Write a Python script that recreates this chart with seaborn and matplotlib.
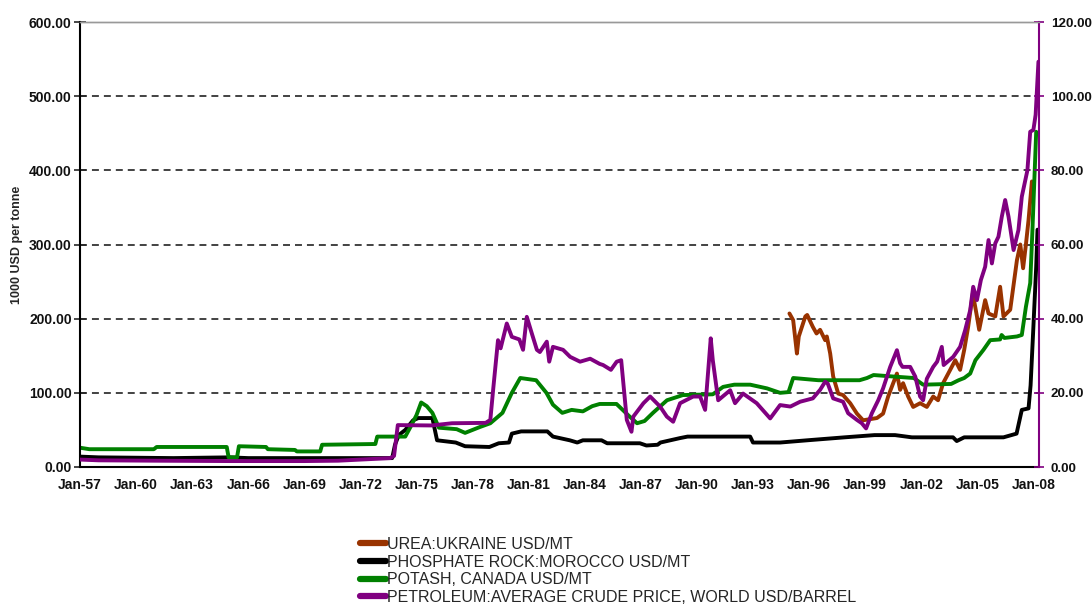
import matplotlib
matplotlib.use("Agg")
import matplotlib.pyplot as plt
from matplotlib.lines import Line2D
from matplotlib.ticker import MultipleLocator, FuncFormatter
import seaborn as sns

sns.set_style("white")
plt.rcParams['font.family'] = ['Liberation Sans', 'DejaVu Sans']
plt.rcParams['lines.scale_dashes'] = False

# ---- data (decimal years) ----
potash_years = [1957.0, 1957.5, 1960.95, 1961.1, 1964.85, 1964.95, 1965.4, 1965.5, 1966.95, 1967.05,
                1968.5, 1968.6, 1969.85, 1969.95, 1972.8, 1972.9, 1974.4, 1974.7, 1975.0, 1975.25,
                1975.55, 1975.85, 1976.2, 1977.15, 1977.6, 1978.0, 1978.4, 1978.95, 1979.6, 1980.1,
                1980.55, 1981.4, 1981.95, 1982.3, 1982.8, 1983.3, 1983.9, 1984.4, 1984.8, 1985.7,
                1986.4, 1986.8, 1987.2, 1987.65, 1988.4, 1989.25, 1990.85, 1991.4, 1992.0, 1992.85,
                1993.75, 1994.45, 1994.9, 1995.15, 1996.5, 1998.7, 1999.1, 1999.45, 2000.5, 2001.6,
                2002.1, 2003.6, 2004.0, 2004.3, 2004.62, 2004.9, 2005.33, 2005.69, 2006.22, 2006.3,
                2006.45, 2007.12, 2007.38, 2007.6, 2007.83, 2007.95, 2008.15]
potash = [26, 24, 24, 27, 27, 13, 13, 28, 27, 24,
          23, 21, 21, 30, 31, 41, 41, 55, 70, 87,
          82, 73, 53, 51, 46, 50, 54, 59, 73, 100,
          120, 117, 100, 84, 73, 77, 75, 82, 85, 85,
          68, 59, 62, 73, 90, 97, 98, 108, 111, 111,
          106, 100, 101, 120, 117, 117, 120, 124, 122, 120,
          111, 112, 117, 120, 126, 144, 158, 171, 172, 178,
          174, 176, 178, 216, 248, 320, 452]

phosphate_years = [1957.0, 1958.0, 1962.0, 1965.0, 1966.0, 1973.7, 1973.85, 1974.05, 1974.4, 1974.82,
                   1975.1, 1975.85, 1976.1, 1977.1, 1977.6, 1978.9, 1979.4, 1979.95, 1980.1, 1980.6,
                   1982.0, 1982.3, 1983.2, 1983.6, 1983.9, 1984.9, 1985.2, 1986.95, 1987.3, 1987.9,
                   1988.05, 1989.1, 1989.5, 1992.85, 1993.0, 1994.45, 1995.9, 1997.9, 1999.5, 2000.6,
                   2001.5, 2003.7, 2003.9, 2004.3, 2006.4, 2007.1, 2007.38, 2007.74, 2007.85, 2008.0,
                   2008.15, 2008.22]
phosphate = [14, 13, 12, 13, 12, 12, 30, 43, 50, 63,
             66, 66, 36, 33, 28, 27, 32, 33, 45, 48,
             48, 41, 36, 33, 36, 36, 32, 32, 29, 30,
             33, 39, 41, 41, 33, 33, 36, 40, 43, 43,
             40, 40, 35, 40, 40, 45, 77, 79, 110, 189,
             270, 320]

urea_years = [1994.95, 1995.15, 1995.35, 1995.45, 1995.8, 1995.9, 1996.2, 1996.4, 1996.59, 1996.86,
              1996.95, 1997.13, 1997.29, 1997.56, 1997.82, 1998.2, 1998.56, 1998.89, 1999.63, 1999.96,
              2000.23, 2000.5, 2000.7, 2000.87, 2001.03, 2001.3, 2001.57, 2001.94, 2002.3, 2002.64,
              2002.9, 2003.17, 2003.55, 2003.82, 2004.08, 2004.3, 2004.51, 2004.76, 2004.98, 2005.1,
              2005.42, 2005.6, 2005.96, 2006.22, 2006.4, 2006.76, 2007.12, 2007.3, 2007.45, 2007.6,
              2007.74, 2007.92]
urea = [207, 198, 153, 176, 203, 205, 189, 180, 185, 171,
        176, 153, 122, 99, 97, 86, 72, 63, 66, 72,
        95, 113, 126, 104, 113, 95, 81, 86, 81, 95,
        90, 113, 131, 144, 131, 158, 189, 234, 203, 185,
        225, 207, 203, 243, 203, 212, 279, 300, 268, 300,
        333, 385]

crude_years = [1957.0, 1958.0, 1961.0, 1965.0, 1969.0, 1970.8, 1972.0, 1973.6, 1973.8, 1974.0,
               1975.8, 1976.9, 1978.7, 1978.95, 1979.1, 1979.36, 1979.5, 1979.83, 1980.1, 1980.5,
               1980.7, 1980.9, 1981.17, 1981.44, 1981.6, 1981.97, 1982.1, 1982.3, 1982.84, 1983.22,
               1983.75, 1984.29, 1984.8, 1984.98, 1985.4, 1985.71, 1985.95, 1986.25, 1986.5, 1986.6,
               1987.14, 1987.5, 1988.03, 1988.39, 1988.73, 1989.1, 1989.8, 1990.17, 1990.44, 1990.74,
               1990.85, 1991.14, 1991.78, 1992.04, 1992.47, 1993.2, 1993.92, 1994.45, 1995.0, 1995.52,
               1996.2, 1996.59, 1996.86, 1997.0, 1997.29, 1997.82, 1998.09, 1998.56, 1998.82, 1999.05,
               1999.36, 1999.7, 1999.96, 2000.34, 2000.7, 2000.87, 2001.0, 2001.41, 2001.68, 2001.94,
               2002.1, 2002.3, 2002.64, 2002.85, 2003.1, 2003.2, 2003.71, 2004.08, 2004.35, 2004.62,
               2004.78, 2004.98, 2005.19, 2005.42, 2005.6, 2005.78, 2005.96, 2006.13, 2006.31, 2006.49,
               2006.67, 2006.94, 2007.2, 2007.38, 2007.68, 2007.83, 2008.0, 2008.12, 2008.27]
crude = [2.0, 1.8, 1.7, 1.6, 1.6, 1.7, 2.0, 2.4, 3.0, 11.3,
         11.2, 11.8, 11.9, 12.7, 20.8, 34.2, 32.0, 38.7, 35.1, 34.4,
         31.6, 40.5, 36.0, 31.6, 31.0, 33.8, 28.4, 32.4, 31.6, 29.7,
         28.4, 29.2, 27.8, 27.5, 26.2, 28.4, 28.8, 12.7, 9.5, 13.6,
         17.2, 19.0, 16.3, 13.6, 12.2, 17.2, 19.0, 19.0, 15.4, 34.7,
         28.8, 18.0, 20.7, 17.2, 19.8, 17.2, 13.1, 16.7, 16.3, 17.6,
         18.5, 20.8, 23.0, 22.5, 18.5, 17.6, 14.5, 12.7, 11.8, 10.4,
         14.5, 18.0, 21.2, 27.0, 31.5, 28.0, 27.0, 27.0, 24.4, 19.0,
         18.0, 23.8, 27.0, 28.4, 32.4, 27.5, 29.7, 32.4, 36.9, 42.3,
         48.6, 45.0, 50.4, 54.0, 61.2, 54.9, 60.3, 62.1, 67.5, 72.0,
         67.5, 58.5, 63.9, 72.9, 80.0, 90.4, 90.9, 95.0, 109.3]

labels = ["UREA:UKRAINE USD/MT",
          "PHOSPHATE ROCK:MOROCCO USD/MT",
          "POTASH, CANADA USD/MT",
          "PETROLEUM:AVERAGE CRUDE PRICE, WORLD USD/BARREL"]
colors = ["#993300", "#000000", "#008000", "#800080"]

tick_years = list(range(1957, 2009, 3))
tick_labels = ["Jan-%02d" % (y % 100) for y in tick_years]

# ---- figure ----
fig = plt.figure(figsize=(10.92, 6.06), dpi=100)
ax = fig.add_axes([80 / 1092, 1 - 467 / 606, 959 / 1092, 445 / 606])
ax2 = ax.twinx()

lw = 2.8
sns.lineplot(x=urea_years, y=urea, ax=ax, color=colors[0], lw=lw, estimator=None, sort=False)
sns.lineplot(x=phosphate_years, y=phosphate, ax=ax, color=colors[1], lw=lw, estimator=None, sort=False)
sns.lineplot(x=potash_years, y=potash, ax=ax, color=colors[2], lw=lw, estimator=None, sort=False)
sns.lineplot(x=crude_years, y=crude, ax=ax2, color=colors[3], lw=lw, estimator=None, sort=False)

ax.set_xlim(1957.0, 2008.3)
ax.set_ylim(0, 600)
ax2.set_ylim(0, 120)

ax.set_xticks(tick_years)
ax.set_xticklabels(tick_labels)
ax.xaxis.set_minor_locator(MultipleLocator(1))
ax.set_yticks(range(0, 601, 100))
ax2.set_yticks(range(0, 121, 20))
ax.yaxis.set_major_formatter(FuncFormatter(lambda v, p: "%.2f" % v))
ax2.yaxis.set_major_formatter(FuncFormatter(lambda v, p: "%.2f" % v))

ax.tick_params(axis='x', which='major', direction='out', length=5, width=1.2, pad=3, labelsize=10)
ax.tick_params(axis='x', which='minor', direction='in', length=4, width=1.0)
ax.tick_params(axis='y', which='major', direction='inout', length=8, width=1.2, pad=2, labelsize=10)
ax2.tick_params(axis='y', which='major', direction='inout', length=7, width=1.2, pad=5,
                color=colors[3], labelsize=9.6)
for lab in ax.get_xticklabels() + ax.get_yticklabels() + ax2.get_yticklabels():
    lab.set_fontweight('bold')
    lab.set_color('#111111')

# gridlines
for v in range(100, 600, 100):
    ax.axhline(v, color='#222222', lw=1.2, linestyle=(0, (5, 3.6)), zorder=0.5)

for a in (ax, ax2):
    a.spines['top'].set_color('#999999')
    a.spines['top'].set_linewidth(1.0)
    a.spines['left'].set_color('black')
    a.spines['left'].set_linewidth(1.5)
    a.spines['bottom'].set_color('black')
    a.spines['bottom'].set_linewidth(1.5)
    a.spines['right'].set_color(colors[3])
    a.spines['right'].set_linewidth(1.5)
ax.spines['right'].set_visible(False)
ax2.spines['left'].set_visible(False)
ax2.spines['bottom'].set_visible(False)

ax.set_xlabel("")
ax2.set_xlabel("")
ax.set_ylabel("1000 USD per tonne", fontsize=9, fontweight='bold', labelpad=4)
ax2.set_ylabel("")

handles = [Line2D([0], [0], color=c, lw=4.5, solid_capstyle='round') for c in colors]
fig.legend(handles, labels, loc='upper left', bbox_to_anchor=(360 / 1092, 1 - 537 / 606),
           frameon=False, fontsize=11.5, handlelength=1.6, handletextpad=0.1,
           labelspacing=0.16, borderaxespad=0, borderpad=0)

fig.savefig("out.png", dpi=100)
